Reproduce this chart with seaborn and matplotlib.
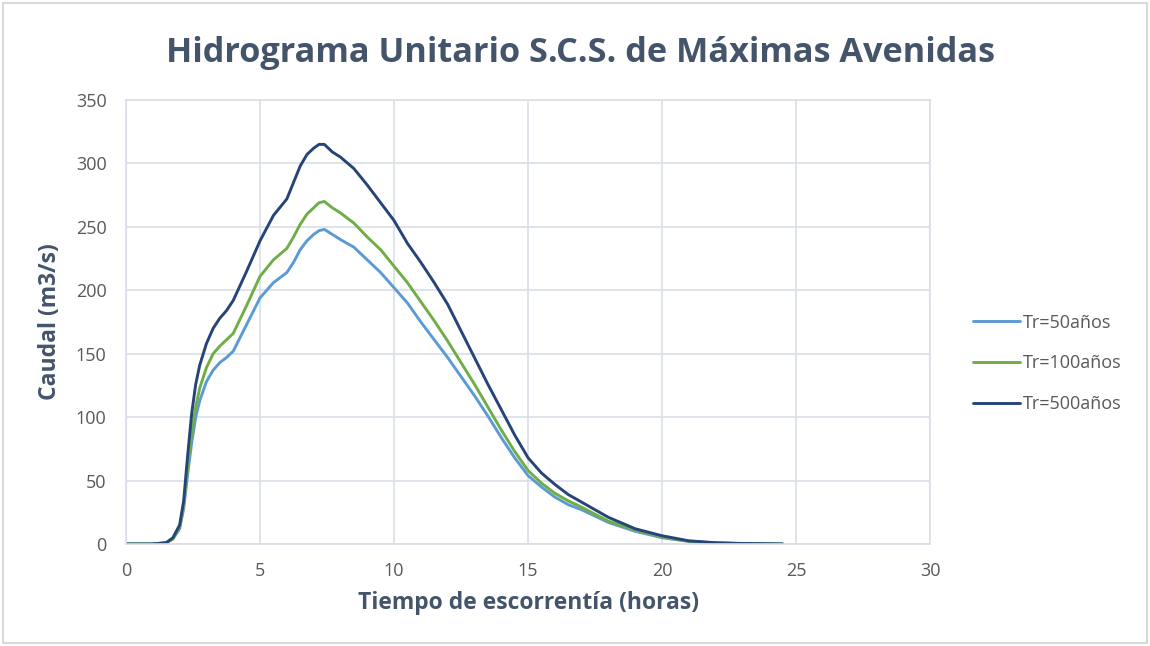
import pandas as pd
import numpy as np
import matplotlib.pyplot as plt
import seaborn as sns
from matplotlib.patches import Rectangle

sns.set_style('white')
plt.rcParams['font.family'] = ['Open Sans', 'DejaVu Sans']

# tiempo (horas) y caudales (m3/s)
tiempo = [0, 0.5, 1.0, 1.5, 1.75, 2.0, 2.15, 2.3, 2.45, 2.6, 2.75, 3.0, 3.25, 3.5, 3.75, 4.0,
          4.5, 5.0, 5.5, 6.0, 6.25, 6.5, 6.75, 7.0, 7.2, 7.4, 7.7, 8.0, 8.5, 9.0, 9.5,
          10, 10.5, 11, 11.5, 12, 12.5, 13, 13.5, 14, 14.5, 15, 15.5, 16, 16.5, 17, 18,
          19, 20, 21, 22, 23, 24.5]
q50 = [0, 0, 0, 1, 4, 12, 28, 55, 80, 100, 113, 128, 137, 143, 147, 152,
       173, 194, 206, 214, 222, 232, 239, 244, 247, 248, 244, 240, 234, 224, 214,
       202, 190, 175, 161, 147, 132, 117, 101, 84, 68, 54, 45, 37, 31, 27, 17,
       10, 5, 2, 0.7, 0.3, 0]
q100 = [0, 0, 0, 1, 4, 13, 30, 60, 88, 108, 123, 139, 150, 156, 161, 166,
        188, 211, 224, 233, 242, 252, 260, 265, 269, 270, 265, 261, 253, 242, 232,
        219, 206, 191, 176, 160, 143, 126, 108, 90, 73, 58, 48, 40, 34, 29, 18,
        11, 5.5, 2.2, 0.8, 0.3, 0]
q500 = [0, 0, 0, 1, 5, 15, 34, 70, 103, 126, 141, 158, 170, 178, 184, 192,
        215, 239, 259, 272, 285, 298, 307, 312, 315, 315, 309, 305, 296, 283, 269,
        255, 237, 222, 206, 189, 168, 147, 126, 106, 86, 68, 56, 47, 39, 33, 21,
        12, 6.5, 2.5, 1, 0.4, 0]
series = ['Tr=50años', 'Tr=100años', 'Tr=500años']
colores = ['#5B9BD5', '#70AD47', '#264478']

df = pd.DataFrame({
    't': tiempo * 3,
    'q': q50 + q100 + q500,
    'serie': [s for s in series for _ in tiempo],
})

fig = plt.figure(figsize=(11.5, 6.46), dpi=100)
ax = fig.add_axes([0.1096, 0.1579, 0.6991, 0.6873])
sns.lineplot(data=df, x='t', y='q', hue='serie', hue_order=series,
             palette=colores, linewidth=2.1, ax=ax, estimator=None, sort=False)
for ln in ax.get_lines():
    ln.set_solid_joinstyle('round')

ax.set_xlim(0, 30)
ax.set_ylim(0, 350)
ax.set_xticks(range(0, 31, 5))
ax.set_yticks(range(0, 351, 50))
ax.grid(True, color='#D9DEE6', linewidth=1.2)
ax.set_axisbelow(True)
for sp in ax.spines.values():
    sp.set_color('#D9DEE6')
    sp.set_linewidth(1.2)
ax.tick_params(axis='both', length=0, labelsize=13, colors='#595959')
ax.tick_params(axis='x', pad=13)
ax.tick_params(axis='y', pad=14)

ax.set_xlabel('Tiempo de escorrentía (horas)', fontsize=16.5, fontweight='bold',
              color='#44546A', labelpad=8)
ax.set_ylabel('Caudal (m3/s)', fontsize=16.5, fontweight='bold', color='#44546A', labelpad=10)
fig.suptitle('Hidrograma Unitario S.C.S. de Máximas Avenidas', x=0.505, y=0.945,
             fontsize=24.7, fontweight='bold', color='#44546A')

leg = ax.legend(loc='center left', bbox_to_anchor=(1.033, 0.407), frameon=False,
                fontsize=13, handlelength=2.6, handletextpad=0.15, labelspacing=1.25)
for t in leg.get_texts():
    t.set_color('#595959')

fig.add_artist(Rectangle((0.003, 0.004), 0.994, 0.992, transform=fig.transFigure,
                         fill=False, edgecolor='#D9D9D9', linewidth=1.5))

plt.savefig('out.png', dpi=100)
plt.close()
